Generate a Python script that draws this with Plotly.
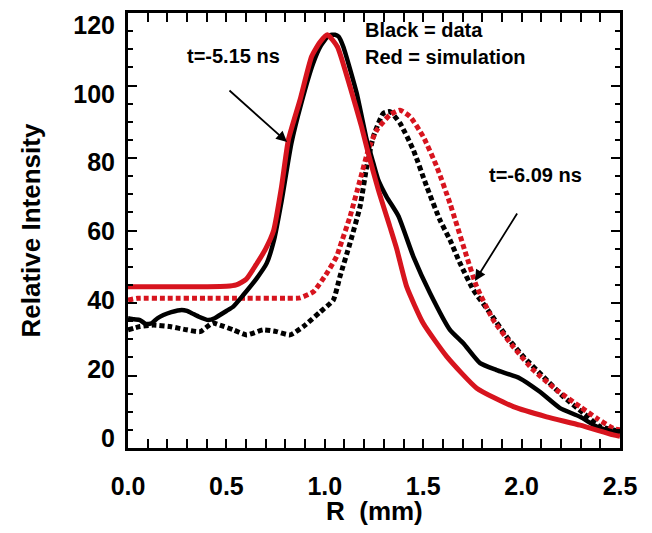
import plotly.graph_objects as go

# t = -5.15 ns, simulation (red solid)
sim1_r = [0, 0.1, 0.2, 0.3, 0.4, 0.5, 0.55, 0.6, 0.65, 0.7, 0.74, 0.78, 0.815, 0.874, 0.933, 0.976, 1.013,
          1.064, 1.128, 1.187, 1.221, 1.272, 1.331, 1.365, 1.416, 1.5, 1.62, 1.772, 1.958, 2.127, 2.297, 2.466, 2.5]
sim1_i = [44.5, 44.5, 44.5, 44.5, 44.5, 44.6, 45.0, 46.5, 50.5, 55.0, 60.0, 72.0, 85.0, 96.0, 108.0, 112.0, 114.0,
          110.7, 99.7, 88.6, 81.3, 71.2, 61.0, 55.0, 44.5, 34.4, 25.2, 16.5, 11.4, 8.6, 6.3, 3.6, 3.2]

# t = -5.15 ns, data (black solid)
dat1_r = [0, 0.03, 0.061, 0.09, 0.12, 0.15, 0.18, 0.22, 0.273, 0.3, 0.324, 0.36, 0.408, 0.44, 0.467, 0.5, 0.535,
          0.586, 0.654, 0.705, 0.742, 0.78, 0.83, 0.88, 0.94, 0.98, 1.02, 1.052, 1.07, 1.094, 1.162, 1.213, 1.247,
          1.272, 1.314, 1.374, 1.45, 1.535, 1.636, 1.704, 1.789, 1.873, 1.992, 2.093, 2.195, 2.297, 2.382, 2.466, 2.5]
dat1_i = [35.8, 35.5, 35.3, 34.2, 34.4, 35.8, 36.7, 37.5, 38.1, 37.8, 37.2, 36.2, 35.3, 35.8, 36.7, 37.8, 39.0,
          42.2, 46.8, 51.0, 57.4, 68.0, 84.0, 95.0, 106.0, 111.0, 113.8, 114.0, 113.5, 110.7, 97.9, 85.0, 78.5,
          73.9, 69.3, 64.0, 52.8, 42.7, 32.6, 28.9, 23.4, 21.5, 19.2, 15.5, 11.0, 8.6, 5.9, 4.5, 4.2]

# t = -6.09 ns, simulation (red dotted)
sim2_r = [0, 0.05, 0.2, 0.4, 0.6, 0.8, 0.874, 0.942, 1.01, 1.06, 1.077, 1.128, 1.179, 1.221, 1.264, 1.331,
          1.382, 1.433, 1.5, 1.569, 1.636, 1.721, 1.772, 1.856, 1.958, 2.06, 2.178, 2.297, 2.382, 2.466, 2.5]
sim2_i = [40.8, 41.3, 41.3, 41.3, 41.3, 41.3, 41.4, 43.1, 48.2, 52.8, 55.5, 63.8, 73.9, 82.2, 87.7, 91.9,
          93.2, 91.4, 85.9, 77.6, 67.5, 52.8, 44.5, 35.3, 27.9, 21.5, 16.0, 11.4, 8.2, 5.4, 5.0]

# t = -6.09 ns, data (black dotted)
dat2_r = [0, 0.061, 0.129, 0.213, 0.298, 0.366, 0.43, 0.467, 0.535, 0.603, 0.687, 0.755, 0.823, 0.891, 0.976,
          1.043, 1.077, 1.128, 1.179, 1.213, 1.247, 1.297, 1.331, 1.382, 1.45, 1.518, 1.585, 1.636, 1.687, 1.755,
          1.84, 1.924, 2.009, 2.11, 2.212, 2.314, 2.398, 2.466, 2.5]
dat2_i = [32.6, 33.5, 33.9, 33.5, 32.6, 32.1, 34.5, 33.9, 32.6, 31.2, 32.6, 32.1, 31.2, 33.5, 37.5,
          40.8, 47.3, 56.5, 66.6, 77.6, 85.9, 92.3, 92.8, 89.6, 82.2, 72.1, 62.9, 57.4, 51.0, 43.6,
          37.2, 30.7, 25.2, 19.7, 14.2, 9.6, 5.9, 5.0, 4.5]

# y tick labels (printed slightly compressed relative to the tick marks, as in the original figure)
y_tick_vals = [0, 20, 40, 60, 80, 100, 120]
y_label_range = [-2.906, 123.49]

RED = "#D7141E"
FONT = "Liberation Sans, Arial, sans-serif"

fig = go.Figure()
fig.add_trace(go.Scatter(x=dat2_r, y=dat2_i, mode="lines",
                         line=dict(color="black", width=5, dash="5px,3px", shape="spline", smoothing=0.5),
                         name="data -6.09"))
fig.add_trace(go.Scatter(x=sim2_r, y=sim2_i, mode="lines",
                         line=dict(color=RED, width=5, dash="5px,3px", shape="spline", smoothing=0.5),
                         name="sim -6.09"))
fig.add_trace(go.Scatter(x=dat1_r, y=dat1_i, mode="lines",
                         line=dict(color="black", width=4.5, shape="spline", smoothing=0.5), name="data -5.15"))
fig.add_trace(go.Scatter(x=sim1_r, y=sim1_i, mode="lines",
                         line=dict(color=RED, width=5, shape="spline", smoothing=0.5), name="sim -5.15"))
# empty trace so the label axis is rendered
fig.add_trace(go.Scatter(x=[None], y=[None], yaxis="y2", mode="lines", hoverinfo="skip", name=""))

tick_font = dict(family=FONT, size=25, color="black", weight="bold")
title_font = dict(family=FONT, size=26, color="black", weight="bold")

axis_common = dict(
    showgrid=False, zeroline=False, showline=True, linecolor="black", linewidth=2.5,
    mirror="allticks", ticks="inside", ticklen=9, tickwidth=2, tickcolor="black", automargin=False,
    tickfont=tick_font, ticklabeloverflow="allow",
)

fig.update_xaxes(range=[0, 2.5], dtick=0.5, tick0=0, tickformat=".1f",
                 minor=dict(ticks="inside", ticklen=5, tickwidth=2, dtick=0.1, tickcolor="black"),
                 ticklabelstandoff=14, **axis_common)
fig.update_yaxes(range=[0, 120], dtick=20, tick0=0, showticklabels=False,
                 minor=dict(ticks="inside", ticklen=5, tickwidth=2, dtick=5, tickcolor="black"),
                 **axis_common)

fig.update_layout(
    yaxis2=dict(overlaying="y", side="left", range=y_label_range, tickmode="array",
                tickvals=y_tick_vals, showline=False, ticks="", showgrid=False, zeroline=False,
                tickfont=tick_font, ticklabelstandoff=12, automargin=False, ticklabeloverflow="allow",
                fixedrange=True),
)

# axis titles
fig.add_annotation(x=0.5, y=0, xref="paper", yref="paper", yanchor="middle", yshift=-63,
                   text="R\u00a0\u00a0(mm)", showarrow=False, font=title_font)
fig.add_annotation(x=0, y=0.5, xref="paper", yref="paper", xanchor="center", xshift=-98,
                   text="Relative Intensity", textangle=-90, showarrow=False, font=title_font)

ann_font = dict(family=FONT, size=20, color="black", weight="bold")
fig.add_annotation(x=0.534, y=108.1, text="t=-5.15 ns", showarrow=False, font=ann_font)
fig.add_annotation(x=2.073, y=75.3, text="t=-6.09 ns", showarrow=False, font=ann_font)
fig.add_annotation(x=1.195, y=115.2, text="Black = data", showarrow=False, font=ann_font, xanchor="left")
fig.add_annotation(x=1.195, y=107.9, text="Red = simulation", showarrow=False, font=ann_font, xanchor="left")

fig.add_annotation(x=0.808, y=84.4, ax=0.508, ay=99.0, axref="x", ayref="y", text="",
                   showarrow=True, arrowhead=2, arrowsize=1.2, arrowwidth=1.8, arrowcolor="black")
fig.add_annotation(x=1.763, y=46.1, ax=1.982, ay=65.1, axref="x", ayref="y", text="",
                   showarrow=True, arrowhead=2, arrowsize=1.2, arrowwidth=1.8, arrowcolor="black")

# page body adds an 8px margin; size the figure so the plot frame lands where the original's does
fig.update_layout(width=636, height=517, margin=dict(l=120, r=24, t=5, b=77),
                  plot_bgcolor="white", paper_bgcolor="white", showlegend=False)

fig.write_html("out.html")
